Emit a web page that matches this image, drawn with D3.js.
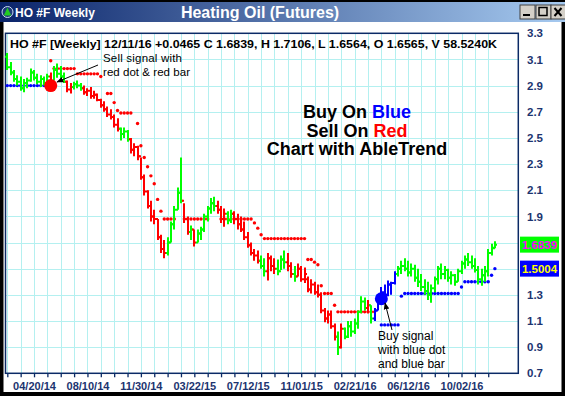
<!DOCTYPE html>
<html><head><meta charset="utf-8">
<script src="https://cdn.jsdelivr.net/npm/d3@7"></script>
<style>
html,body{margin:0;padding:0;background:#fff;}
svg{display:block;font-family:"Liberation Sans",Arial,sans-serif;}
</style></head><body>
<svg id="c" width="565" height="396"></svg>
<script>
// ---------- data ----------
const firstWeek = "2014-02-23";
const lastWeek = "2016-12-11";
const highs = [3.15,3.08,3.02,2.98,2.97,2.95,2.96,3.03,3.02,2.99,2.98,2.97,2.99,3.00,3.05,3.07,3.05,3.00,2.94,2.92,
2.93,2.94,2.92,2.90,2.88,2.89,2.86,2.84,2.80,2.78,2.74,2.72,2.68,2.65,2.58,2.58,2.56,2.50,2.46,2.44,
2.35,2.22,2.10,2.02,1.95,1.88,1.76,1.72,1.74,1.86,1.98,2.12,2.35,2.00,1.90,1.83,1.80,1.80,1.82,1.92,
1.98,2.04,2.05,2.02,1.98,1.96,1.94,1.95,1.94,1.92,1.90,1.86,1.78,1.70,1.65,1.64,1.60,1.58,1.62,1.60,
1.58,1.57,1.60,1.64,1.62,1.55,1.52,1.54,1.52,1.51,1.44,1.42,1.40,1.38,1.32,1.20,1.18,1.18,1.08,1.02,
1.08,1.05,1.10,1.10,1.12,1.18,1.29,1.28,1.26,1.22,1.20,1.30,1.36,1.38,1.41,1.40,1.48,1.52,1.56,1.58,
1.56,1.54,1.53,1.50,1.46,1.42,1.40,1.38,1.44,1.52,1.54,1.52,1.50,1.48,1.46,1.50,1.56,1.60,1.62,1.60,
1.58,1.52,1.50,1.52,1.65,1.69,1.7106];
const lows = [3.02,2.98,2.93,2.90,2.86,2.85,2.88,2.93,2.94,2.91,2.89,2.90,2.91,2.90,2.94,2.96,2.95,2.92,2.85,2.84,
2.87,2.88,2.86,2.83,2.82,2.80,2.80,2.78,2.73,2.70,2.66,2.64,2.58,2.55,2.48,2.50,2.47,2.38,2.36,2.33,
2.18,2.06,1.96,1.86,1.84,1.72,1.62,1.58,1.60,1.70,1.80,1.95,2.00,1.85,1.76,1.72,1.67,1.70,1.72,1.78,
1.86,1.92,1.94,1.92,1.85,1.82,1.84,1.85,1.84,1.80,1.78,1.72,1.66,1.60,1.56,1.54,1.50,1.44,1.41,1.48,
1.46,1.45,1.49,1.50,1.48,1.43,1.40,1.44,1.40,1.39,1.32,1.31,1.30,1.28,1.16,1.09,1.08,1.04,0.95,0.84,
0.89,0.96,0.97,0.98,1.00,1.04,1.16,1.18,1.16,1.08,1.10,1.18,1.23,1.27,1.29,1.30,1.38,1.44,1.46,1.48,
1.44,1.44,1.40,1.36,1.33,1.30,1.26,1.24,1.32,1.38,1.42,1.42,1.40,1.38,1.37,1.40,1.46,1.50,1.52,1.50,
1.47,1.38,1.37,1.40,1.44,1.60,1.6564];
const opens = [3.12,3.04,3.00,2.95,2.93,2.88,2.92,2.94,3.00,2.96,2.93,2.95,2.92,2.97,2.92,3.02,2.99,2.97,2.93,2.87,
2.89,2.91,2.90,2.88,2.85,2.86,2.82,2.83,2.79,2.75,2.72,2.68,2.66,2.60,2.57,2.53,2.55,2.49,2.41,2.43,
2.36,2.20,2.09,1.98,1.90,1.88,1.74,1.65,1.62,1.70,1.84,1.95,2.08,2.02,1.88,1.78,1.80,1.70,1.77,1.80,
1.90,1.96,2.00,1.98,1.95,1.88,1.92,1.87,1.92,1.88,1.84,1.80,1.74,1.68,1.62,1.60,1.56,1.52,1.48,1.58,
1.52,1.50,1.48,1.57,1.55,1.52,1.46,1.44,1.50,1.42,1.42,1.34,1.38,1.32,1.30,1.18,1.12,1.15,1.06,0.98,
0.90,1.04,0.98,1.06,1.02,1.08,1.17,1.25,1.20,1.22,1.12,1.18,1.28,1.32,1.30,1.38,1.39,1.46,1.50,1.52,
1.50,1.47,1.50,1.43,1.40,1.36,1.33,1.30,1.35,1.42,1.50,1.46,1.49,1.43,1.45,1.40,1.48,1.54,1.57,1.55,
1.52,1.49,1.42,1.45,1.48,1.62,1.6565];
const closes = [3.04,3.00,2.95,2.93,2.88,2.92,2.94,3.00,2.96,2.93,2.95,2.92,2.97,2.92,3.02,2.99,2.97,2.93,2.87,2.89,
2.91,2.90,2.88,2.85,2.86,2.82,2.83,2.79,2.75,2.72,2.68,2.66,2.60,2.57,2.53,2.55,2.49,2.41,2.43,2.36,
2.20,2.09,1.98,1.90,1.88,1.74,1.65,1.62,1.70,1.84,1.95,2.08,2.02,1.88,1.78,1.80,1.70,1.77,1.80,1.90,
1.96,2.00,1.98,1.95,1.88,1.92,1.87,1.92,1.88,1.84,1.80,1.74,1.68,1.62,1.60,1.56,1.52,1.48,1.58,1.52,
1.50,1.48,1.57,1.55,1.52,1.46,1.44,1.50,1.42,1.46,1.34,1.38,1.32,1.30,1.18,1.12,1.15,1.06,0.98,0.90,
1.04,0.98,1.06,1.02,1.08,1.17,1.25,1.20,1.22,1.12,1.18,1.28,1.32,1.30,1.38,1.39,1.46,1.50,1.52,1.50,
1.47,1.50,1.43,1.40,1.36,1.33,1.30,1.35,1.42,1.50,1.46,1.49,1.43,1.45,1.40,1.48,1.54,1.57,1.55,1.52,
1.49,1.42,1.45,1.48,1.62,1.66,1.6839];
// bar trend colour: g = neutral, r = down, b = up
const barTrend = "ggggggggggggg" + "rggggrrggg" + "rrrrrrrrrrrgggrrrrrrrrrrr" + "gggggrrgrggggggrrrggrrrrrrrr" + "ggrrrgggrrgr" +
 "rrrrrrrrrrrgrgggggggrg" + "bbbbbbb" + "ggggggggggggggggggggggggggggg";
// trailing stop dots (null = none)
const stopVals = [2.90,2.90,2.90,2.90,2.90,2.90,2.90,2.90,2.90,2.90,2.90,2.90,2.90,3.09,3.03,3.03,3.03,3.03,3.03,3.03,
3.03,2.99,2.99,2.99,2.99,2.99,2.99,2.99,2.97,null,2.84,2.84,2.77,2.71,2.69,2.69,2.69,2.69,null,2.61,
2.44,2.35,2.28,2.21,2.15,2.03,1.94,1.88,1.88,1.88,1.88,null,null,1.88,1.88,1.88,1.88,1.88,1.88,1.88,
1.88,null,null,null,1.88,1.88,1.88,1.88,1.88,1.88,1.88,1.88,1.88,1.88,1.85,1.81,1.76,1.73,1.73,1.73,
1.73,1.73,1.73,1.73,1.73,1.73,1.73,1.73,1.73,1.73,1.57,1.57,1.55,1.53,1.37,1.31,1.31,1.31,1.22,1.17,
1.17,1.17,1.17,1.17,1.17,1.17,1.17,1.17,1.17,1.17,1.17,null,1.07,1.07,1.07,1.07,1.07,1.07,1.29,1.31,
1.31,1.31,1.31,1.31,1.31,1.31,1.31,1.31,1.31,1.31,1.31,1.31,1.31,1.31,1.31,1.31,1.36,1.40,1.40,1.40,
1.40,1.40,1.40,1.40,1.40,1.45,1.5004];
const stopSide = "bbbbbbbbbbbbb" + "r".repeat(99) + "b".repeat(35);
// signals: index, value, colour
const signalIdx = [13, 112];
const signalVal = [2.90, 1.27];
const signalCol = ["r", "b"];
const yTicks = [0.7,0.9,1.1,1.3,1.5,1.7,1.9,2.1,2.3,2.5,2.7,2.9,3.1,3.3];
const yLabelTicks = [0.7,0.9,1.1,1.3,1.9,2.1,2.3,2.5,2.7,2.9,3.1,3.3];
const xLabels = ["04/20/14","08/10/14","11/30/14","03/22/15","07/12/15","11/01/15","02/21/16","06/12/16","10/02/16"];
const lastClose = 1.6839, lastStop = 1.5004;

// ---------- drawing ----------
const COL = {g:"#00ff00", r:"#ff0000", b:"#0000ff"};
const svg = d3.select("#c");
const parse = d3.timeParse("%Y-%m-%d");
const t0 = parse(firstWeek), t1 = parse(lastWeek);
const weeks = highs.map((_, i) => d3.timeWeek.offset(t0, i));
const plot = {l:5.5, r:518.3, t:33.3, b:373.3};
const x = d3.scaleTime().domain([t0, t1]).range([7.3, 494.9]);
const y = d3.scaleLinear().domain([0.7, 3.3]).range([plot.b, plot.t]);

// window frame
svg.append("rect").attr("x",0).attr("y",0).attr("width",565).attr("height",396).attr("fill","#000");
svg.append("rect").attr("x",3.5).attr("y",22).attr("width",558).attr("height",370).attr("fill","#fff");
const defs = svg.append("defs");
const grad = defs.append("linearGradient").attr("id","tg");
grad.append("stop").attr("offset","0%").attr("stop-color","#0a246a");
grad.append("stop").attr("offset","100%").attr("stop-color","#a6caf0");
svg.append("rect").attr("x",0).attr("y",2).attr("width",565).attr("height",20).attr("fill","url(#tg)");
// icon
svg.append("circle").attr("cx",7.5).attr("cy",12).attr("r",5.5).attr("fill","#1d3c7a").attr("stroke","#c8d8f0").attr("stroke-width",1);
svg.append("path").attr("d","M3.8,15.5 L7.5,7.5 L11.2,15.5 Z").attr("fill","#22cc22");
svg.append("text").attr("x",15).attr("y",17).attr("fill","#fff").attr("font-weight","bold").attr("font-size",12).text("HO #F Weekly");
svg.append("text").attr("x",260).attr("y",18).attr("fill","#fff").attr("font-weight","bold").attr("font-size",16).attr("text-anchor","middle").text("Heating Oil (Futures)");
// buttons
[520, 536, 551].forEach((bx, k) => {
  const g = svg.append("g");
  g.append("rect").attr("x",bx).attr("y",5).attr("width",15).attr("height",14).attr("fill","#d4d0c8").attr("stroke","#404040").attr("stroke-width",1);
  if (k === 0) g.append("rect").attr("x",bx+3).attr("y",14).attr("width",7).attr("height",2).attr("fill","#000");
  if (k === 1) g.append("rect").attr("x",bx+3).attr("y",7.5).attr("width",8).attr("height",8).attr("fill","none").attr("stroke","#000").attr("stroke-width",1.5);
  if (k === 2) g.append("path").attr("d",`M${bx+3.5},8 L${bx+10.5},16 M${bx+10.5},8 L${bx+3.5},16`).attr("stroke","#000").attr("stroke-width",2);
});

// grid
const tickDates = d3.range(0, 37).map(k => d3.timeWeek.offset(t0, 4*k));
const grid = svg.append("g").attr("stroke","#b4f0f0").attr("stroke-width",1);
tickDates.forEach(d => { const xx = Math.round(x(d))+0.5; if (xx>plot.l+1 && xx<plot.r-1) grid.append("line").attr("x1",xx).attr("x2",xx).attr("y1",plot.t).attr("y2",plot.b); });
yTicks.forEach(v => { const yy = Math.round(y(v))+0.5; if (yy>plot.t+1 && yy<plot.b-1) grid.append("line").attr("x1",plot.l).attr("x2",plot.r).attr("y1",yy).attr("y2",yy); });

// x axis
const fmt = d3.timeFormat("%m/%d/%y");
const xAxis = d3.axisBottom(x).tickValues(tickDates.filter(d => x(d) < plot.r)).tickSize(4).tickFormat(d => xLabels.includes(fmt(d)) ? fmt(d) : "");
const xg = svg.append("g").attr("transform",`translate(0,${plot.b})`).call(xAxis);
xg.select(".domain").remove();
xg.selectAll("line").attr("stroke","#0b2a66").attr("stroke-width",1.3);
xg.selectAll("text").attr("fill","#1c3470").attr("font-weight","bold").attr("font-size",11).attr("font-family","'Liberation Sans',Arial,sans-serif").attr("y",16.5).attr("dy",0);

// y axis labels
const yAxis = d3.axisRight(y).tickValues(yLabelTicks).tickSize(0).tickPadding(0).tickFormat(d3.format(".1f"));
const yg = svg.append("g").attr("transform","translate(527,0)").call(yAxis);
yg.select(".domain").remove();
yg.selectAll("text").attr("fill","#1c3470").attr("font-weight","bold").attr("font-size",11.5).attr("font-family","'Liberation Sans',Arial,sans-serif");

// plot frame
svg.append("rect").attr("x",plot.l).attr("y",plot.t).attr("width",plot.r-plot.l).attr("height",plot.b-plot.t).attr("fill","none").attr("stroke","#0b2a66").attr("stroke-width",1.5);

// stop dots
const dots = svg.append("g");
stopVals.forEach((v, i) => {
  if (v === null) return;
  dots.append("circle").attr("cx", x(weeks[i])).attr("cy", y(v)).attr("r", 1.7).attr("fill", COL[stopSide[i]]);
});

// OHLC bars
const bars = svg.append("g").attr("stroke-width",2).attr("fill","none");
highs.forEach((h, i) => {
  const cx = Math.round(x(weeks[i]));
  const c = COL[barTrend[i]] || COL.g;
  bars.append("line").attr("x1",cx).attr("x2",cx).attr("y1",y(h)).attr("y2",y(lows[i])).attr("stroke",c);
  bars.append("line").attr("x1",cx-2).attr("x2",cx).attr("y1",y(opens[i])).attr("y2",y(opens[i])).attr("stroke",c);
  bars.append("line").attr("x1",cx).attr("x2",cx+2).attr("y1",y(closes[i])).attr("y2",y(closes[i])).attr("stroke",c);
});

// signal dots
signalIdx.forEach((si, k) => {
  svg.append("circle").attr("cx", x(weeks[si])).attr("cy", y(signalVal[k])).attr("r", 6.5).attr("fill", COL[signalCol[k]]);
});

// header text
svg.append("text").attr("x",10).attr("y",48).attr("font-size",11.5).attr("font-weight","bold").attr("fill","#000")
  .attr("textLength",487).attr("lengthAdjust","spacingAndGlyphs")
  .text("HO #F [Weekly] 12/11/16  +0.0465 C 1.6839, H 1.7106, L 1.6564, O 1.6565, V 58.5240K");

// annotations
defs.append("marker").attr("id","ah").attr("viewBox","0 0 10 10").attr("refX",9).attr("refY",5)
  .attr("markerWidth",7).attr("markerHeight",7).attr("orient","auto")
  .append("path").attr("d","M0,1 L10,5 L0,9 Z").attr("fill","#000");
svg.append("line").attr("x1",98).attr("y1",65).attr("x2",57).attr("y2",82).attr("stroke","#000").attr("stroke-width",1).attr("marker-end","url(#ah)");
svg.append("text").attr("x",103).attr("y",61.5).attr("font-size",11.5).attr("textLength",79).text("Sell signal with");
svg.append("text").attr("x",103).attr("y",75.5).attr("font-size",11.5).attr("textLength",87).text("red dot & red bar");
svg.append("line").attr("x1",392).attr("y1",330).attr("x2",385).attr("y2",303).attr("stroke","#000").attr("stroke-width",1).attr("marker-end","url(#ah)");
svg.append("text").attr("x",378).attr("y",340).attr("font-size",12).text("Buy signal");
svg.append("text").attr("x",378).attr("y",354).attr("font-size",12).text("with blue dot");
svg.append("text").attr("x",378).attr("y",368).attr("font-size",12).text("and blue bar");

const big = svg.append("g").attr("font-weight","bold").attr("font-size",18).attr("text-anchor","middle");
const t1a = big.append("text").attr("x",357).attr("y",118);
t1a.append("tspan").text("Buy On ");
t1a.append("tspan").attr("fill","#0000ff").text("Blue");
const t2a = big.append("text").attr("x",357).attr("y",136.5);
t2a.append("tspan").text("Sell On ");
t2a.append("tspan").attr("fill","#ff0000").text("Red");
big.append("text").attr("x",357).attr("y",155).text("Chart with AbleTrend");

// last value boxes
[[lastClose,"#00ff00","#ff00ff"],[lastStop,"#0000ff","#ffff00"]].forEach(([v,bg,fg]) => {
  svg.append("rect").attr("x",520).attr("y",y(v)-8).attr("width",39).attr("height",16).attr("fill",bg);
  svg.append("text").attr("x",539.5).attr("y",y(v)+4).attr("text-anchor","middle").attr("font-size",11.5).attr("font-weight","bold").attr("fill",fg).text(v.toFixed(4));
});
</script>
</body></html>
